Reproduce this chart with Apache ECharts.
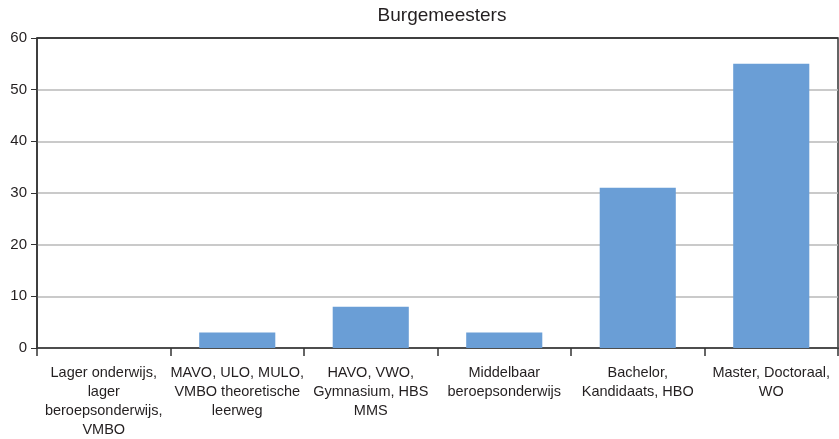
<!DOCTYPE html>
<html>
<head>
<meta charset="utf-8">
<script src="https://cdn.jsdelivr.net/npm/echarts@6/dist/echarts.min.js"></script>
<style>html,body{margin:0;padding:0;background:#fff}#main{width:839px;height:439px}</style>
</head>
<body>
<div id="main"></div>
<script>
  var titel = 'Burgemeesters';
  var categorieen = [
    'Lager onderwijs,\nlager\nberoepsonderwijs,\nVMBO',
    'MAVO, ULO, MULO,\nVMBO theoretische\nleerweg',
    'HAVO, VWO,\nGymnasium, HBS\nMMS',
    'Middelbaar\nberoepsonderwijs',
    'Bachelor,\nKandidaats, HBO',
    'Master, Doctoraal,\nWO'
  ];
  var aantallen = [0, 3, 8, 3, 31, 55];
  var yTicks = [0, 10, 20, 30, 40, 50, 60];

  var font = 'Liberation Sans';
  // lichte rasterlijnen, bovenste lijn donker (rand van het plotvlak)
  var rasterKleuren = yTicks.map(function (v, i) {
    return i === yTicks.length - 1 ? '#333' : '#b8b8b8';
  });
  var myChart = echarts.init(document.getElementById('main'));
  var option = {
    animation: false,
    textStyle: { fontFamily: font },
    title: {
      text: titel,
      left: 437, top: 1,
      textAlign: 'center',
      textStyle: { fontFamily: font, fontSize: 19, fontWeight: 'normal', color: '#231f20' }
    },
    grid: {
      left: 37, right: 1, top: 38, bottom: 91,
      show: true, borderColor: '#333', borderWidth: 1.5
    },
    xAxis: {
      type: 'category',
      data: categorieen,
      axisLine: { lineStyle: { color: '#333', width: 1.5 } },
      axisTick: { show: true, length: 8, lineStyle: { color: '#333', width: 1.5 } },
      axisLabel: { interval: 0, color: '#231f20', fontSize: 14.5, lineHeight: 19, margin: 15 }
    },
    yAxis: {
      type: 'value',
      min: yTicks[0], max: yTicks[yTicks.length - 1], interval: 10,
      axisLine: { show: true, lineStyle: { color: '#333', width: 1.5 } },
      axisTick: { show: true, length: 6, lineStyle: { color: '#333' } },
      axisLabel: { color: '#231f20', fontSize: 15, margin: 10 },
      splitLine: { lineStyle: { color: rasterKleuren, width: 1.5 } }
    },
    series: [{
      type: 'bar',
      data: aantallen,
      barWidth: '57%',
      itemStyle: { color: '#6a9ed6' }
    }]
  };
  myChart.setOption(option);
</script>
</body>
</html>
